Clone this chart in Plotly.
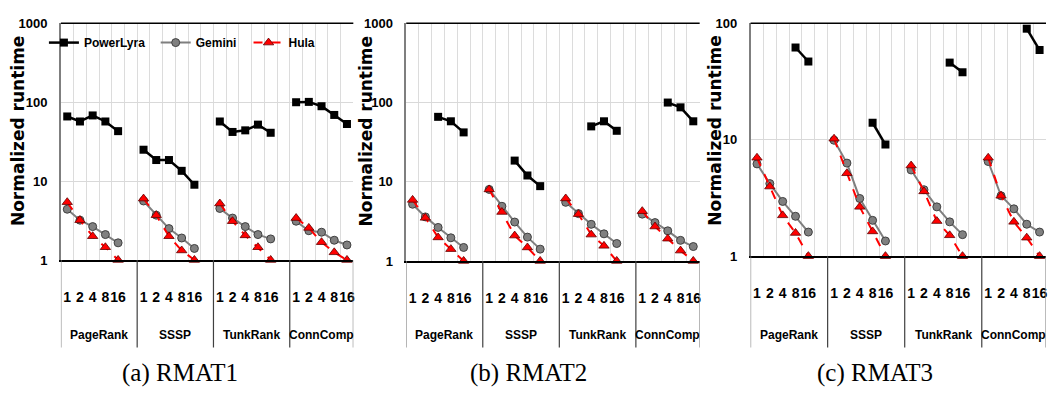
import plotly.graph_objects as go

# ---------------- data ----------------
threads = ["1", "2", "4", "8", "16"]
apps = ["PageRank", "SSSP", "TunkRank", "ConnComp"]
captions = ["(a) RMAT1", "(b) RMAT2", "(c) RMAT3"]
y_ticks = [1, 10, 100, 1000]
y_tick_text = ["1", "10", "100", "1000"]

powerlyra_rmat1 = [66, 57, 68, 57, 43, 25, 18.5, 18.5, 13.5, 9.0, 57, 42, 44, 52, 41, 100, 101, 89, 69, 53]
gemini_rmat1 = [4.4, 3.2, 2.65, 2.1, 1.65, 5.6, 3.7, 2.5, 1.9, 1.4, 4.5, 3.4, 2.65, 2.1, 1.85, 3.1, 2.35, 2.25, 1.78, 1.55]
hula_rmat1 = [5.4, 3.2, 2.0, 1.45, 1.0, 6.0, 3.7, 2.0, 1.32, 1.0, 5.2, 3.1, 2.05, 1.45, 1.0, 3.4, 2.55, 1.68, 1.25, 1.0]

powerlyra_rmat2 = [None, None, 66, 58, 42, None, None, 18.5, 12, 8.8, None, None, 50, 58, 44, None, None, 100, 87, 58]
gemini_rmat2 = [5.2, 3.6, 2.65, 1.96, 1.48, 8.0, 4.9, 3.1, 2.0, 1.41, 5.5, 3.96, 2.9, 2.2, 1.66, 3.9, 3.05, 2.4, 1.82, 1.52]
hula_rmat2 = [5.9, 3.5, 1.98, 1.41, 1.0, 8.0, 4.15, 2.09, 1.48, 1.0, 6.15, 3.9, 2.15, 1.55, 1.0, 4.25, 2.72, 1.91, 1.35, 1.0]

powerlyra_rmat3 = [None, None, None, 62, 47, None, None, None, 14, 9.1, None, None, None, 46, 38, None, None, None, 90, 59]
gemini_rmat3 = [6.2, 4.2, 2.95, 2.2, 1.61, 9.9, 6.3, 3.13, 2.03, 1.35, 5.5, 3.72, 2.65, 1.97, 1.53, 6.5, 3.3, 2.55, 1.88, 1.61]
hula_rmat3 = [7.0, 3.96, 2.24, 1.58, 1.0, 10.2, 5.15, 2.65, 1.63, 1.0, 6.0, 3.6, 2.0, 1.51, 1.0, 7.0, 3.3, 1.97, 1.44, 1.0]

series_names = ["PowerLyra", "Gemini", "Hula"]
panel_data = [
    [powerlyra_rmat1, gemini_rmat1, hula_rmat1],
    [powerlyra_rmat2, gemini_rmat2, hula_rmat2],
    [powerlyra_rmat3, gemini_rmat3, hula_rmat3],
]

# ---------------- layout geometry ----------------
W, H = 1050, 394
SANS = "Liberation Sans, Arial, sans-serif"


def pxx(v):
    return v / W


def pxy(v):
    return 1 - v / H


geom = [(61, 354, 17, 263), (407, 701, 17, 264), (752, 1048, 17, 259)]  # left,right,top,bottom px
y_ranges = [[0, 3], [0, 3], [0, 2]]
title_x = [18, 367, 716]
caption_x = [180, 530, 877]
SLOT = 6
x_end = 23
seps = [0, 6, 12, 18, 23]

styles = [
    dict(mode="lines+markers", line=dict(color="black", width=2.5),
         marker=dict(symbol="square", size=8, color="black")),
    dict(mode="lines+markers", line=dict(color="#7f7f7f", width=2),
         marker=dict(symbol="circle", size=8, color="#808080", line=dict(color="#404040", width=1))),
    dict(mode="lines+markers", line=dict(color="#ff0000", width=2, dash="dash"),
         marker=dict(symbol="triangle-up", size=9, color="#ff0000", line=dict(color="#600000", width=0.8))),
]
legend_ids = ["legend", "legend2", "legend3"]

fig = go.Figure()
shapes = []
annotations = []

for k in range(3):
    suffix = "" if k == 0 else str(k + 1)
    xs, tick_vals, tick_text = [], [], []
    for g in range(len(apps)):
        for i in range(SLOT):
            xs.append(g * SLOT + i + 0.5)
        for i, t in enumerate(threads):
            tick_vals.append(g * SLOT + i + 0.5)
            tick_text.append(t)
    for s in range(3):
        vals = panel_data[k][s]
        ys = []
        for g in range(len(apps)):
            ys.extend(vals[g * 5:(g + 1) * 5] + [None])
        fig.add_trace(go.Scatter(
            x=xs, y=ys, name=series_names[s], xaxis="x" + suffix, yaxis="y" + suffix,
            connectgaps=False, cliponaxis=False,
            showlegend=(k == 0), legend=legend_ids[s], **styles[s]))

    l, r, t, b = geom[k]
    fig.layout["xaxis" + suffix] = dict(
        domain=[pxx(l), pxx(r)], range=[0, x_end], anchor="y" + suffix,
        tickmode="array", tickvals=tick_vals, ticktext=tick_text, tickangle=0,
        ticks="outside", ticklen=23, tickcolor="rgba(0,0,0,0)",
        tickfont=dict(family=SANS, size=14, color="black", weight="bold"),
        showgrid=False, showline=True, linecolor="black", linewidth=2, zeroline=False,
        minor=dict(tickmode="linear", tick0=0, dtick=1, showgrid=True, gridcolor="#dcdcdc", gridwidth=1, ticks=""),
        fixedrange=True,
    )
    fig.layout["yaxis" + suffix] = dict(
        domain=[pxy(b), pxy(t)], type="log", range=y_ranges[k], anchor="x" + suffix,
        tickmode="array", tickvals=y_ticks, ticktext=y_tick_text,
        ticks="outside", ticklen=9, tickcolor="rgba(0,0,0,0)",
        tickfont=dict(family=SANS, size=13, color="black", weight="bold"),
        showgrid=True, gridcolor="#d9d9d9", gridwidth=1,
        showline=True, linecolor="#7f7f7f", linewidth=1.5, zeroline=False,
        fixedrange=True,
    )
    # top border
    shapes.append(dict(type="line", xref="x" + suffix + " domain", yref="y" + suffix + " domain",
                       x0=0, x1=1, y0=1, y1=1, line=dict(color="black", width=1.5)))
    # group separators below axis
    for j, sx in enumerate(seps):
        col = "#8c8c8c" if j in (0, len(seps) - 1) else "#404040"
        shapes.append(dict(type="line", xref="x" + suffix, yref="paper",
                           x0=sx, x1=sx, y0=pxy(b), y1=pxy(354),
                           line=dict(color=col, width=1.2)))
    # group labels
    for g, app in enumerate(apps):
        annotations.append(dict(text="<b>" + app + "</b>", xref="x" + suffix, yref="paper",
                                x=(seps[g] + seps[g + 1]) / 2, y=pxy(341), showarrow=False,
                                font=dict(family=SANS, size=12, color="black"),
                                xanchor="center", yanchor="middle"))
    # y title
    annotations.append(dict(text="<b>Normalized runtime</b>", xref="paper", yref="paper",
                            x=pxx(title_x[k]), y=pxy(129), textangle=-90, showarrow=False,
                            font=dict(family="DejaVu Sans", size=17, color="black"),
                            xanchor="center", yanchor="middle"))
    # caption
    annotations.append(dict(text=captions[k], xref="paper", yref="paper",
                            x=pxx(caption_x[k]), y=pxy(381), showarrow=False,
                            font=dict(family="Liberation Serif, Times New Roman, serif", size=25, color="black"),
                            xanchor="center", yanchor="middle"))

legend_x = [44, 156, 249]
legend_common = dict(orientation="h", yanchor="middle", xanchor="left", y=pxy(37),
                     bgcolor="rgba(0,0,0,0)", borderwidth=0,
                     font=dict(family=SANS, size=12, color="black", weight="bold"))
fig.update_layout(
    width=W, height=H, autosize=False,
    margin=dict(l=0, r=0, t=0, b=0),
    paper_bgcolor="white", plot_bgcolor="white",
    shapes=shapes, annotations=annotations,
    legend=dict(x=pxx(legend_x[0]), **legend_common),
    legend2=dict(x=pxx(legend_x[1]), **legend_common),
    legend3=dict(x=pxx(legend_x[2]), **legend_common),
)

fig.write_html("out.html")
